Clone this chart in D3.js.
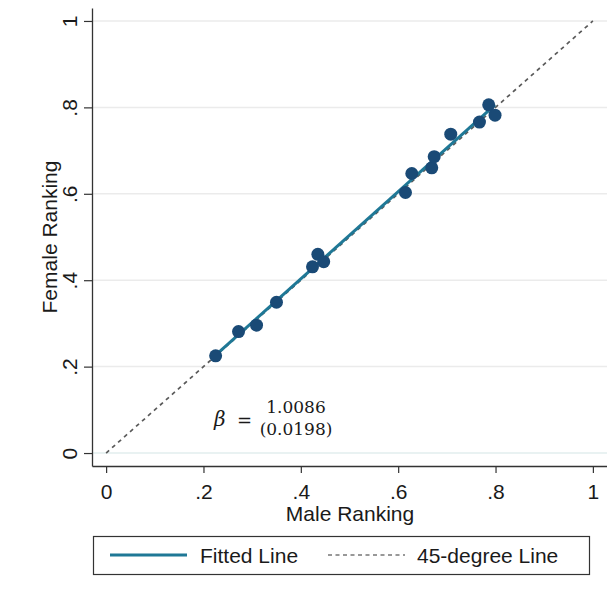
<!DOCTYPE html>
<html>
<head>
<meta charset="utf-8">
<script src="https://cdn.jsdelivr.net/npm/d3@7/dist/d3.min.js"></script>
<style>
  html, body { margin: 0; padding: 0; background: #fff; }
  svg { display: block; }
  text { font-family: Arial, "Liberation Sans", sans-serif; fill: #1a1a1a; }
</style>
</head>
<body>
<svg id="chart" width="607" height="600"></svg>
<script>
// Ranking pairs (male, female)
const maleRanking = [0.225, 0.272, 0.309, 0.350, 0.424, 0.435, 0.447, 0.615, 0.628, 0.669, 0.674, 0.708, 0.767, 0.786, 0.799];
const femaleRanking = [0.225, 0.281, 0.296, 0.349, 0.431, 0.460, 0.443, 0.603, 0.647, 0.660, 0.686, 0.738, 0.766, 0.806, 0.782];
const tickValues = [0, 0.2, 0.4, 0.6, 0.8, 1];
const tickLabels = ["0", ".2", ".4", ".6", ".8", "1"];
const beta = 1.0086;
const betaSE = 0.0198;
const legendLabels = ["Fitted Line", "45-degree Line"];

const FS = "21px";
const svg = d3.select("#chart");
const x = d3.scaleLinear().domain([-0.029, 1.029]).range([92, 607]);
const y = d3.scaleLinear().domain([-0.03, 1.03]).range([466, 8]);

const points = maleRanking.map((m, i) => ({ m, f: femaleRanking[i] }));

// Horizontal gridlines
svg.append("g").selectAll("line").data(tickValues).join("line")
  .attr("x1", x.range()[0]).attr("x2", x.range()[1])
  .attr("y1", d => y(d)).attr("y2", d => y(d))
  .attr("stroke", d => d === 0 ? "#e2eeee" : "#ebebeb")
  .attr("stroke-width", 1.5);

// 45-degree reference line
svg.append("line")
  .attr("x1", x(0)).attr("y1", y(0)).attr("x2", x(1)).attr("y2", y(1))
  .attr("stroke", "#5a5a5a").attr("stroke-width", 1.7)
  .attr("stroke-dasharray", "4,4");

// Fitted line: slope beta through the means
const mx = d3.mean(maleRanking), my = d3.mean(femaleRanking);
const intercept = my - beta * mx;
const [x0, x1] = d3.extent(maleRanking);
svg.append("line")
  .attr("x1", x(x0)).attr("y1", y(intercept + beta * x0))
  .attr("x2", x(x1)).attr("y2", y(intercept + beta * x1))
  .attr("stroke", "#1f7896").attr("stroke-width", 3);

// Scatter points
svg.append("g").selectAll("circle").data(points).join("circle")
  .attr("cx", d => x(d.m)).attr("cy", d => y(d.f)).attr("r", 6.5)
  .attr("fill", "#1a4a76");

// Axes
const xAxis = d3.axisBottom(x).tickValues(tickValues).tickFormat((d, i) => tickLabels[i])
  .tickSizeOuter(0).tickSizeInner(7).tickPadding(11);
const gx = svg.append("g").attr("transform", "translate(0,466)").call(xAxis);
gx.select(".domain").attr("stroke", "#333").attr("stroke-width", 1.3);
gx.selectAll(".tick line").attr("stroke", "#333").attr("stroke-width", 1.2);
gx.selectAll(".tick text").style("font-size", FS).attr("fill", "#1a1a1a")
  .attr("font-family", "Arial, 'Liberation Sans', sans-serif");

const yAxis = d3.axisLeft(y).tickValues(tickValues).tickFormat((d, i) => tickLabels[i])
  .tickSizeOuter(0).tickSizeInner(8).tickPadding(0);
const gy = svg.append("g").attr("transform", "translate(92,0)").call(yAxis);
gy.select(".domain").attr("stroke", "#333").attr("stroke-width", 1.3);
gy.selectAll(".tick line").attr("stroke", "#333").attr("stroke-width", 1.2);
gy.selectAll(".tick text")
  .style("font-size", FS).attr("fill", "#1a1a1a")
  .attr("font-family", "Arial, 'Liberation Sans', sans-serif")
  .attr("x", 0).attr("dy", 0)
  .attr("text-anchor", "middle")
  .attr("transform", "translate(-15,0) rotate(-90)");

// Axis titles
svg.append("text").attr("x", 350).attr("y", 521).attr("text-anchor", "middle")
  .style("font-size", FS).text("Male Ranking");
svg.append("text").attr("transform", "translate(57,237) rotate(-90)")
  .attr("text-anchor", "middle").style("font-size", FS).text("Female Ranking");

// Coefficient annotation
const ann = svg.append("g");
const serif = "'DejaVu Serif', 'Liberation Serif', serif";
ann.append("text").attr("x", 214).attr("y", 426).style("font-size", "20px")
  .style("font-style", "italic").style("font-family", serif).text("β");
ann.append("text").attr("x", 237).attr("y", 427).style("font-size", "18px")
  .style("font-family", serif).text("=");
ann.append("text").attr("x", 296).attr("y", 413).attr("text-anchor", "middle")
  .style("font-size", "17px").style("font-family", serif).text(beta.toFixed(4));
ann.append("text").attr("x", 296).attr("y", 435).attr("text-anchor", "middle")
  .style("font-size", "17px").style("font-family", serif).text("(" + betaSE.toFixed(4) + ")");

// Legend
const lg = svg.append("g");
lg.append("rect").attr("x", 93.5).attr("y", 536.5).attr("width", 496).attr("height", 38)
  .attr("fill", "#fff").attr("stroke", "#333").attr("stroke-width", 1.2);
lg.append("line").attr("x1", 110).attr("x2", 187).attr("y1", 555).attr("y2", 555)
  .attr("stroke", "#1f7896").attr("stroke-width", 3);
lg.append("text").attr("x", 200).attr("y", 563).style("font-size", FS).text(legendLabels[0]);
lg.append("line").attr("x1", 328).attr("x2", 405).attr("y1", 555).attr("y2", 555)
  .attr("stroke", "#333").attr("stroke-width", 1.2).attr("stroke-dasharray", "4,3.5");
lg.append("text").attr("x", 417).attr("y", 563).style("font-size", FS).text(legendLabels[1]);
</script>
</body>
</html>
